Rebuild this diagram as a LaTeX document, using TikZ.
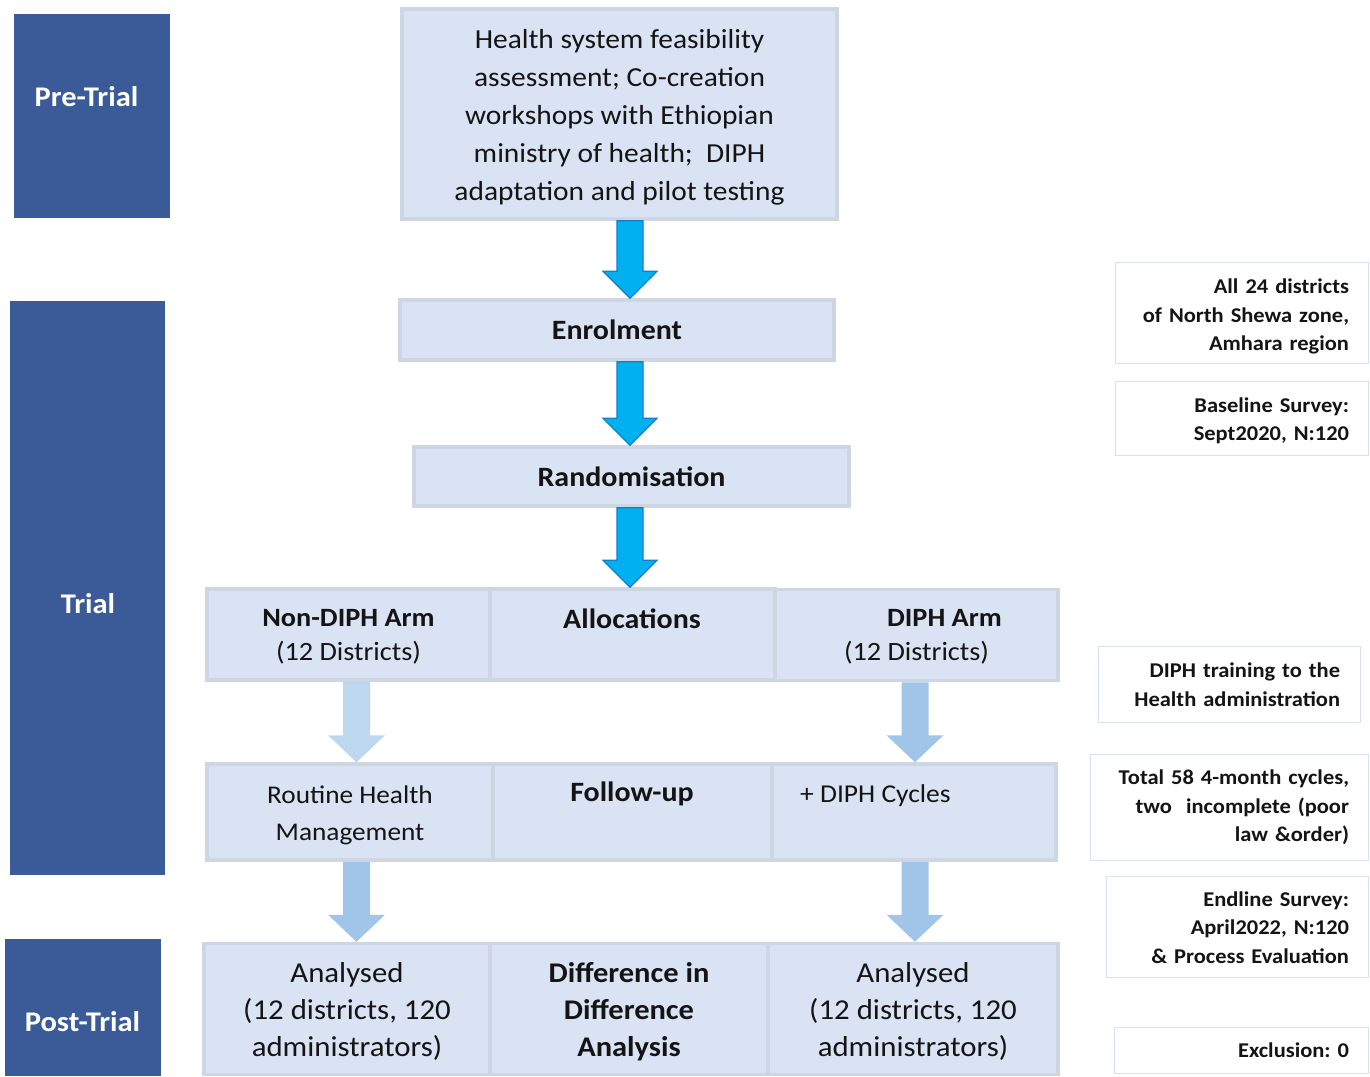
\documentclass[tikz,border=0pt]{standalone}
\usepackage{fontspec}
\setmainfont{Carlito}[FakeStretch=1.07]
\usetikzlibrary{calc}
\definecolor{phaseblue}{RGB}{58,91,152}
\definecolor{boxfill}{RGB}{218,227,243}
\definecolor{boxline}{RGB}{206,214,227}
\definecolor{arrowblue}{RGB}{0,176,240}
\definecolor{arrowedge}{RGB}{16,128,200}
\definecolor{lightarrow}{RGB}{189,215,238}
\definecolor{midarrow}{RGB}{160,197,232}
\definecolor{sideline}{RGB}{214,226,244}
\definecolor{txt}{RGB}{20,20,20}
\newcommand{\tstrut}[1]{\rule{0pt}{\dimexpr0.7\baselineskip+#1pt\relax}}
\tikzset{
  phase/.style={fill=phaseblue, draw=none, inner sep=0pt},
  phasetxt/.style={text=white, font=\fontsize{28.5}{32}\selectfont\bfseries},
  mainbox/.style={fill=boxfill, draw=boxline, line width=3.5pt, inner sep=0pt, align=center, text=txt},
  sidebox/.style={fill=white, draw=sideline, line width=1pt, inner ysep=0pt, align=right, text=txt,
     font=\fontsize{21}{28.5}\selectfont\bfseries},
  bigarrow/.style={fill=arrowblue, draw=arrowedge, line width=1.2pt},
  lightarr/.style={fill=lightarrow, draw=none},
  midarr/.style={fill=midarrow, draw=none},
}
\newcommand{\blockarrow}[5]{%
  \path[#1] let \p1=(#2), \p2=(#3) in
    (\x2-#4,\y1) -- (\x2+#4,\y1) -- (\x2+#4,\y2+27pt) -- (\x2+#5,\y2+27pt)
    -- (\x2,\y2) -- (\x2-#5,\y2+27pt) -- (\x2-#4,\y2+27pt) -- cycle;}
\begin{document}
\frenchspacing
\begin{tikzpicture}[x=1pt,y=-1pt]
\useasboundingbox (0,0) rectangle (1370,1076);

% phase boxes
\node[phase, minimum width=156, minimum height=204] (pre) at (92,116) {};
\node[phasetxt] (pretxt) at (86.5,97) {Pre-Trial};
\node[phase, minimum width=155, minimum height=574] (trial) at (87.5,588) {};
\node[phasetxt] (trialtxt) at (88,604) {Trial};
\node[phase, minimum width=156, minimum height=137] (post) at (83,1007.5) {};
\node[phasetxt] (posttxt) at (82.5,1022) {Post-Trial};

% main column
\node[mainbox, minimum width=435, minimum height=210, font=\fontsize{27.5}{37.8}\selectfont] (top) at (619.5,114)
  {\tstrut{6}Health system feasibility\\assessment; Co-creation\\workshops with Ethiopian\\ministry of health;\ \ DIPH\\adaptation and pilot testing\strut};
\node[mainbox, minimum width=434, minimum height=60, font=\fontsize{28}{30}\selectfont\bfseries] (enrol) at (617,330) {Enrolment};
\node[mainbox, minimum width=435, minimum height=59, font=\fontsize{28}{30}\selectfont\bfseries] (rand) at (631.5,476.5) {Randomisation};

% row 1
\node[mainbox, minimum width=283, minimum height=91, font=\fontsize{26.4}{34}\selectfont] (nondiph) at (348.5,634.5)
  {\tstrut{4}\textbf{Non-DIPH Arm}\\(12 Districts)\strut};
\node[mainbox, minimum width=285, minimum height=91] (alloc) at (632.5,634.5) {};
\node[font=\fontsize{28}{30}\selectfont\bfseries, text=txt] (alloctxt) at (632,619) {Allocations};
\node[mainbox, minimum width=283, minimum height=91, font=\fontsize{26.4}{34}\selectfont] (diph) at (916.5,635)
  {\tstrut{4}\hspace*{56pt}\textbf{DIPH Arm}\\(12 Districts)\strut};

% row 2
\node[mainbox, minimum width=286, minimum height=96, font=\fontsize{25.5}{37}\selectfont] (routine) at (350,812)
  {\tstrut{6}Routine Health\\Management\strut};
\node[mainbox, minimum width=279, minimum height=96] (follow) at (632.5,812) {};
\node[font=\fontsize{28}{30}\selectfont\bfseries, text=txt] (followtxt) at (632,794) {Follow-up};
\node[mainbox, minimum width=284, minimum height=96] (cycles) at (914,812) {};
\node[font=\fontsize{25.7}{30}\selectfont, text=txt, anchor=west, inner sep=0pt] (cyctxt) at (800,796) {+ DIPH Cycles};

% row 3
\node[mainbox, minimum width=286, minimum height=131, font=\fontsize{28.8}{37}\selectfont] (anl) at (347,1009)
  {\tstrut{6}Analysed\\(12 districts, 120\\administrators)\strut};
\node[mainbox, minimum width=278, minimum height=131, font=\fontsize{28.5}{37}\selectfont\bfseries] (did) at (629,1009)
  {\tstrut{6}Difference in\\Difference\\Analysis\strut};
\node[mainbox, minimum width=290, minimum height=131, font=\fontsize{28.8}{37}\selectfont] (anr) at (913,1009)
  {\tstrut{6}Analysed\\(12 districts, 120\\administrators)\strut};

% arrows
\coordinate (ax1) at (630,0);
\coordinate (ax2) at (356.5,0);
\coordinate (ax3) at (915,0);
\blockarrow{bigarrow}{ax1 |- top.south}{ax1 |- enrol.north}{13pt}{27pt}
\blockarrow{bigarrow}{ax1 |- enrol.south}{ax1 |- rand.north}{13pt}{27pt}
\blockarrow{bigarrow}{ax1 |- rand.south}{ax1 |- alloc.north}{13pt}{27pt}
\blockarrow{lightarr}{ax2 |- nondiph.south}{ax2 |- routine.north}{13.5pt}{28.5pt}
\blockarrow{midarr}{ax3 |- diph.south}{ax3 |- cycles.north}{13.5pt}{28.5pt}
\blockarrow{midarr}{ax2 |- routine.south}{ax2 |- anl.north}{13.5pt}{28.5pt}
\blockarrow{midarr}{ax3 |- cycles.south}{ax3 |- anr.north}{13.5pt}{28.5pt}

% side boxes
\node[sidebox, inner xsep=19pt, text width=215pt, minimum height=101] (s1) at (1241.5,312.5)
  {\tstrut{8}All 24 districts\\of North Shewa zone,\\Amhara region\strut};
\node[sidebox, inner xsep=19pt, text width=215pt, minimum height=74] (s2) at (1241.5,418)
  {\tstrut{6}Baseline Survey:\\Sept2020, N:120\strut};
\node[sidebox, inner xsep=20pt, text width=222pt, minimum height=76] (s3) at (1229,684)
  {\tstrut{5}DIPH training to the\\Health administration\strut};
\node[sidebox, inner xsep=19pt, text width=240pt, minimum height=106] (s4) at (1229,807)
  {\tstrut{1}Total 58 4-month cycles,\\two\ \ incomplete (poor\\law \&order)\strut};
\node[sidebox, inner xsep=19pt, text width=224pt, minimum height=101] (s5) at (1237,926.5)
  {\tstrut{5}Endline Survey:\\April2022, N:120\\\& Process Evaluation\strut};
\node[sidebox, inner xsep=19pt, text width=216pt, minimum height=46] (s6) at (1241,1050)
  {\tstrut{4}Exclusion: 0\strut};
\end{tikzpicture}
\end{document}
